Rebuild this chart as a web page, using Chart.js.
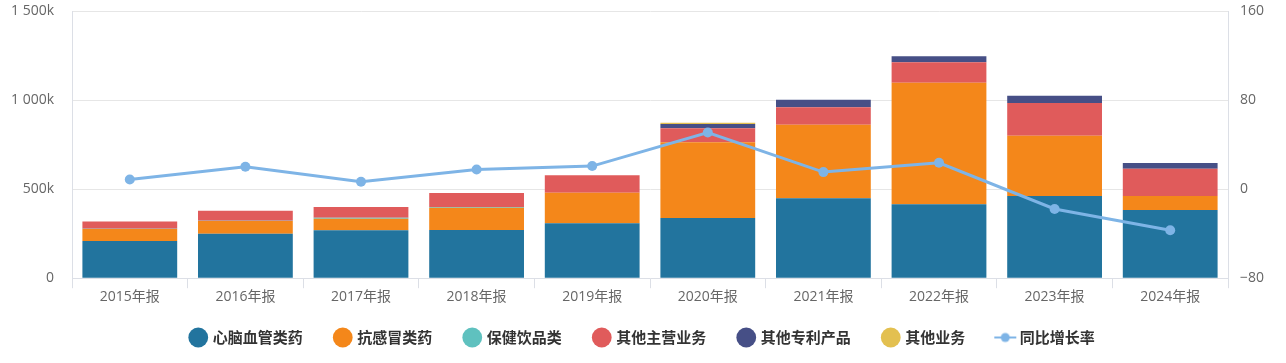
<!DOCTYPE html>
<html>
<head>
<meta charset="utf-8">
<script src="https://cdn.jsdelivr.net/npm/chart.js@4"></script>
<style>
  html, body { margin: 0; padding: 0; background: #fff; }
  #wrap { width: 1286px; height: 363px; position: relative; }
</style>
</head>
<body>
<div id="wrap"><canvas id="canvRevenue"></canvas></div>
<script>
// categories and series (values in yuan, growth in %)
const years = ['2015年报', '2016年报', '2017年报', '2018年报', '2019年报', '2020年报', '2021年报', '2022年报', '2023年报', '2024年报'];
const cardio = [209000, 250000, 269000, 270000, 308000, 338000, 449000, 415000, 462000, 383000];
const coldMed = [67000, 71000, 65000, 126000, 171000, 425000, 412000, 682000, 337000, 79000];
const health = [2000, 2000, 5000, 4000, 1000, 0, 0, 0, 0, 0];
const otherMain = [40000, 55000, 60000, 78000, 98000, 79000, 99000, 115000, 184000, 152000];
const patent = [0, 0, 0, 0, 0, 24000, 42000, 34000, 41000, 33000];
const otherBiz = [0, 0, 0, 0, 0, 6000, 0, 0, 0, 0];
const growth = [8.7, 20.1, 6.6, 17.7, 20.7, 50.8, 15.3, 23.7, -17.8, -37.0];

const leftTicks = [0, 500000, 1000000, 1500000];
const rightTicks = [-80, 0, 80, 160];

// legend marker for the line series: short line with a dot
const lineMarker = document.createElement('canvas');
lineMarker.width = 24; lineMarker.height = 14;
(function() {
    let ctx = lineMarker.getContext('2d');
    ctx.strokeStyle = '#7eb4e6'; ctx.lineWidth = 2;
    ctx.beginPath(); ctx.moveTo(1, 7); ctx.lineTo(23, 7); ctx.stroke();
    ctx.fillStyle = '#7eb4e6';
    ctx.beginPath(); ctx.arc(12, 7, 4.5, 0, Math.PI * 2); ctx.fill();
})();

function fmtK(v) {
    if (v === 0) return '0';
    let k = Math.round(v / 1000);
    return k.toString().replace(/\B(?=(\d{3})+(?!\d))/g, ' ') + 'k';
}

const barSet = (label, data, color) => ({
    type: 'bar', label: label, data: data, backgroundColor: color,
    stack: 'rev', yAxisID: 'y', order: 2,
    barPercentage: 0.82, categoryPercentage: 1.0,
    pointStyle: 'circle'
});

const tickFont = { family: '"Open Sans", "Noto Sans CJK SC", sans-serif', size: 14 };

// pull the legend a bit closer to the axis labels
const legendShift = {
    id: 'legendShift',
    afterLayout(chart) {
        chart.legend.top -= 8;
        chart.legend.bottom -= 8;
    }
};

new Chart(document.getElementById('canvRevenue'), {
    data: {
        labels: years,
        datasets: [
            {
                type: 'line', label: '同比增长率', data: growth, yAxisID: 'y1', order: 0,
                borderColor: '#7eb4e6', backgroundColor: '#7eb4e6', borderWidth: 3,
                pointRadius: 5, pointHoverRadius: 5, pointBackgroundColor: '#7eb4e6',
                pointBorderWidth: 0, tension: 0, pointStyle: 'circle'
            },
            barSet('心脑血管类药', cardio, '#22749e'),
            barSet('抗感冒类药', coldMed, '#f4871a'),
            barSet('保健饮品类', health, '#5fc1bf'),
            barSet('其他主营业务', otherMain, '#e05b5b'),
            barSet('其他专利产品', patent, '#464f86'),
            barSet('其他业务', otherBiz, '#e3c050')
        ]
    },
    plugins: [legendShift],
    options: {
        responsive: true,
        maintainAspectRatio: false,
        animation: false,
        layout: { padding: 0 },
        plugins: {
            tooltip: { enabled: false },
            legend: {
                position: 'bottom',
                labels: {
                    usePointStyle: true,
                    boxWidth: 14, boxHeight: 14,
                    padding: 33,
                    color: '#333',
                    font: { family: '"Noto Sans CJK SC", "Noto Sans", sans-serif', size: 15, weight: 'bold' },
                    generateLabels: function(chart) {
                        let items = Chart.defaults.plugins.legend.labels.generateLabels(chart);
                        items.forEach(it => {
                            if (it.datasetIndex === 0) {
                                it.pointStyle = lineMarker;
                            } else {
                                it.pointStyle = 'circle';
                                it.lineWidth = 0;
                            }
                        });
                        // bars first, line last
                        let line = items.shift();
                        items.push(line);
                        return items;
                    }
                }
            }
        },
        scales: {
            x: {
                stacked: true,
                grid: { offset: true, drawOnChartArea: false, color: '#dcdfe6', tickLength: 10 },
                border: { color: '#dcdfe6' },
                ticks: { color: '#666', font: tickFont, padding: 0 }
            },
            y: {
                stacked: true, position: 'left', min: 0, max: 1500000,
                afterBuildTicks: axis => { axis.ticks = leftTicks.map(v => ({ value: v })); },
                afterFit: axis => { axis.width = 72; axis.paddingTop = 11; },
                grid: { color: '#e6e6e6', drawTicks: false },
                border: { color: '#dcdfe6', display: true },
                ticks: { color: '#666', padding: 18, font: tickFont, callback: v => fmtK(v) }
            },
            y1: {
                position: 'right', min: -80, max: 160,
                afterBuildTicks: axis => { axis.ticks = rightTicks.map(v => ({ value: v })); },
                afterFit: axis => { axis.width = 58; axis.paddingTop = 11; },
                grid: { drawOnChartArea: false, drawTicks: false },
                border: { color: '#dcdfe6', display: true },
                ticks: { color: '#666', padding: 12, font: tickFont,
                         callback: v => v < 0 ? '\u2212' + Math.abs(v) : String(v) }
            }
        }
    }
});
</script>
</body>
</html>
